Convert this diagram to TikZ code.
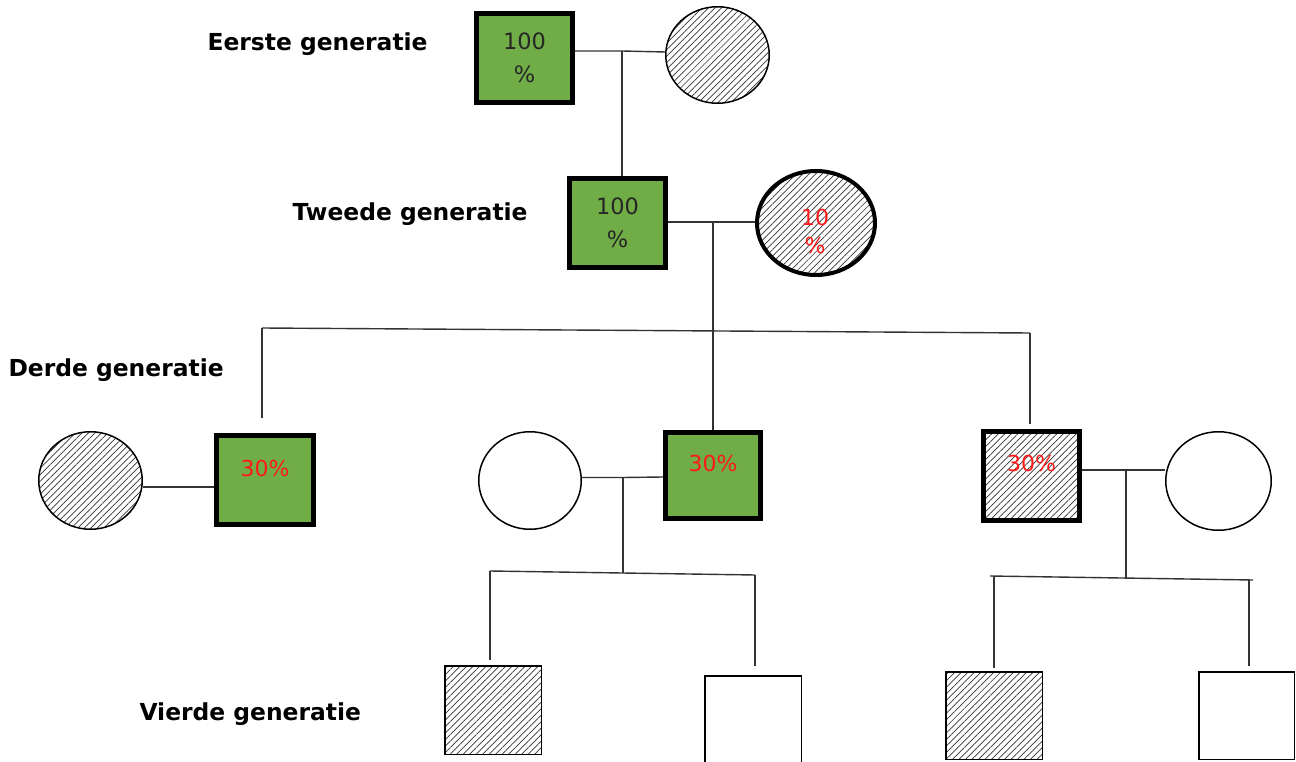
\documentclass[tikz,border=0pt]{standalone}
\usepackage{fontspec}
\setmainfont{DejaVu Sans}
\usetikzlibrary{shapes.geometric,patterns.meta,calc}
\definecolor{carrier}{HTML}{70AD47}
\definecolor{pct}{HTML}{FF1A1A}
\tikzset{
  gen/.style={anchor=west,font=\fontsize{23.4}{28}\selectfont\bfseries},
  box/.style={rectangle,draw=black,inner sep=0pt},
  thick box/.style={box,line width=5pt},
  thin box/.style={box,line width=1.5pt},
  ring/.style={ellipse,draw=black,inner sep=0pt,line width=1.5pt},
  green/.style={fill=carrier},
  hatch/.style={pattern={Lines[angle=45,distance=4.6pt,line width=0.7pt]},pattern color=black!80},
  link/.style={draw=black!80,line width=1.4pt},
  pcttext/.style={font=\fontsize{22}{28}\selectfont,text=pct,align=center},
  fulltext/.style={font=\fontsize{22.5}{33}\selectfont,text=black!85,align=center},
}
\begin{document}
\begin{tikzpicture}[x=1pt,y=-1pt]
\useasboundingbox (0,0) rectangle (1296,762);

% generation labels
\node[gen] (l1) at (204,44)  {Eerste generatie};
\node[gen] (l2) at (289,214) {Tweede generatie};
\node[gen] (l3) at (5,370)   {Derde generatie};
\node[gen] (l4) at (136,714) {Vierde generatie};

% first generation
\node[thick box,green,minimum width=96pt,minimum height=89pt] (f1) at (524.5,58) {};
\node[fulltext] (f1t) at (524.5,58) {100\\\%};
\node[ring,hatch,minimum width=103.5pt,minimum height=96.5pt] (m1) at (717.5,55) {};

% second generation
\node[thick box,green,minimum width=96pt,minimum height=89pt] (f2) at (617.5,223) {};
\node[fulltext] (f2t) at (617.5,223) {100\\\%};
\node[ring,hatch,line width=4pt,minimum width=118pt,minimum height=104pt] (m2) at (816,223) {};
\node[pcttext] (m2t) at (815,231) {10\\\%};

% third generation
\node[ring,hatch,minimum width=103.5pt,minimum height=97.5pt] (c1w) at (90.5,480.5) {};
\node[thick box,green,minimum width=97pt,minimum height=89pt] (c1) at (265,480) {};
\node[pcttext] (c1t) at (265,468) {30\%};

\node[ring,minimum width=102.5pt,minimum height=97.5pt] (c2w) at (530,480.5) {};
\node[thick box,green,minimum width=95pt,minimum height=86pt] (c2) at (713,475.5) {};
\node[pcttext] (c2t) at (713,463) {30\%};

\node[thick box,hatch,minimum width=96pt,minimum height=89pt] (c3) at (1031.5,476) {};
\node[pcttext] (c3t) at (1031.5,463) {30\%};
\node[ring,minimum width=105.5pt,minimum height=98.5pt] (c3w) at (1218.5,481) {};

% fourth generation
\node[thin box,hatch,minimum width=96.5pt,minimum height=88.5pt] (g1) at (493,710) {};
\node[thin box,minimum width=96.5pt,minimum height=88.5pt] (g2) at (753,720) {};
\node[thin box,hatch,minimum width=96.5pt,minimum height=87.5pt] (g3) at (994,715.5) {};
\node[thin box,minimum width=95.5pt,minimum height=87.5pt] (g4) at (1246.5,715.5) {};

% couples and descent lines
\coordinate (j1) at (622,51);
\draw[link] ([yshift=7pt]f1.east) -- (j1) -- ([yshift=3pt]m1.west);
\draw[link] (j1) -- (j1 |- f2.north);

\coordinate (j2) at (713,222);
\draw[link] ([yshift=1pt]f2.east) -- (j2) -- ([yshift=1pt]m2.west);
\coordinate (s2) at (713,330.5);
\draw[link] (j2) -- (s2);
\coordinate (s2l) at (262,328);
\coordinate (s2r) at (1030,333);
\draw[link] (s2l) -- (s2r);
\draw[link] (s2l) -- ([yshift=15pt]c1.north -| s2l);
\draw[link] (s2) -- (c2.north -| s2);
\draw[link] (s2r) -- ([yshift=5pt]c3.north -| s2r);

\draw[link] ([yshift=-6.5pt]c1w.east) -- ([yshift=-7pt]c1.west);

\coordinate (j3) at (623,477.5);
\draw[link] ([yshift=3pt]c2w.east) -- (j3) -- ([yshift=-1.5pt]c2.west);
\coordinate (s3) at (623,573);
\draw[link] (j3) -- (s3);
\coordinate (s3l) at (490,571);
\coordinate (s3r) at (755,575);
\draw[link] (s3l) -- (s3r);
\draw[link] (s3l) -- ([yshift=5pt]g1.north -| s3l);
\draw[link] (s3r) -- ([yshift=9pt]g2.north -| s3r);

\coordinate (j4) at (1126,470);
\draw[link] ([yshift=6pt]c3.east) -- (j4) -- ([yshift=11pt]c3w.west);
\coordinate (s4) at (1126,578);
\draw[link] (j4) -- (s4);
\coordinate (s4l) at (990,576);
\coordinate (s4r) at (1253,580);
\draw[link] (s4l) -- (s4r);
\coordinate (d4l) at (994,577);
\coordinate (d4r) at (1249,580);
\draw[link] (d4l) -- ([yshift=3pt]g3.north -| d4l);
\draw[link] (d4r) -- ([yshift=5pt]g4.north -| d4r);
\end{tikzpicture}
\end{document}
